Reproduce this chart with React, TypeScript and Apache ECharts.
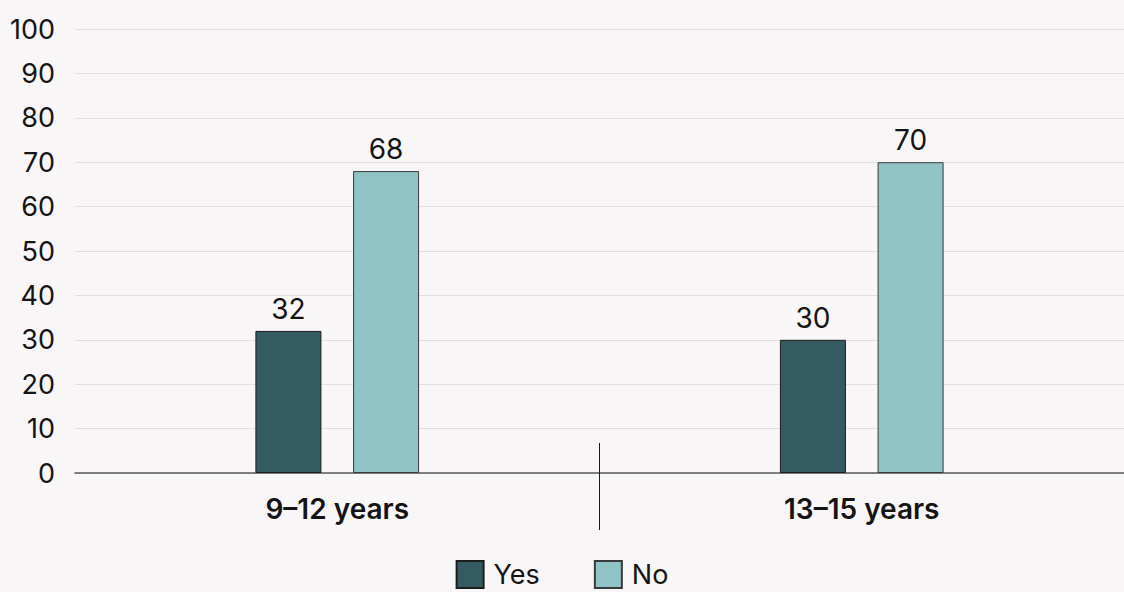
import React, { useEffect, useRef } from "react";
import * as echarts from "echarts";

const categories = ["9–12 years", "13–15 years"];
const yesValues = [32, 30];
const noValues = [68, 70];
const seriesNames = ["Yes", "No"];
const yMin = 0;
const yMax = 100;
const yInterval = 10;

const FONT = "Inter, 'Liberation Sans', Arial, sans-serif";
const TEXT = "#141414";
const FS = 28;

export default function App() {
  const ref = useRef<HTMLDivElement>(null);
  useEffect(() => {
    if (!ref.current) return;
    const chart = echarts.init(ref.current, null, { renderer: "svg" });
    chart.setOption({
      animation: false,
      backgroundColor: "#f8f6f7",
      textStyle: { fontFamily: FONT, color: TEXT },
      grid: { left: 75, right: 0, top: 29, bottom: 119, containLabel: false },
      legend: {
        top: 555,
        left: "center",
        padding: [5, 5, 2, 5],
        itemWidth: 27,
        itemHeight: 27,
        itemGap: 54,
        icon: "rect",
        textStyle: { fontFamily: FONT, fontSize: 27, lineHeight: 28, color: TEXT, padding: [0, 0, 0, 5] },
        data: seriesNames,
      },
      xAxis: {
        type: "category",
        data: categories,
        axisLine: { lineStyle: { color: "#5a5a5a", width: 1.5 } },
        axisTick: { show: false },
        axisLabel: {
          fontFamily: FONT,
          fontSize: FS,
          fontWeight: 600,
          color: TEXT,
          margin: 22,
        },
      },
      yAxis: {
        type: "value",
        min: yMin,
        max: yMax,
        interval: yInterval,
        axisLine: { show: false },
        axisTick: { show: false },
        splitLine: { lineStyle: { color: "#e2dfdf", width: 1 } },
        axisLabel: { fontFamily: FONT, fontSize: 27, color: TEXT, margin: 20 },
      },
      series: [
        {
          name: seriesNames[0],
          type: "bar",
          data: yesValues,
          barWidth: 66,
          barGap: "48%",
          itemStyle: { color: "#335b61", borderColor: "#1c1c1c", borderWidth: 1 },
          label: { show: true, position: "top", distance: 8, fontFamily: FONT, fontSize: FS, color: TEXT },
        },
        {
          name: seriesNames[1],
          type: "bar",
          data: noValues,
          barWidth: 66,
          itemStyle: { color: "#8fc3c5", borderColor: "#3a3a3a", borderWidth: 1 },
          label: { show: true, position: "top", distance: 8, fontFamily: FONT, fontSize: FS, color: TEXT },
        },
      ],
    });
    const x0 = chart.convertToPixel({ xAxisIndex: 0 }, categories[0]) as number;
    const x1 = chart.convertToPixel({ xAxisIndex: 0 }, categories[1]) as number;
    const y0 = chart.convertToPixel({ yAxisIndex: 0 }, 0) as number;
    const xm = (x0 + x1) / 2;
    chart.setOption({
      graphic: [
        {
          type: "line",
          shape: { x1: xm, y1: y0 - 30, x2: xm, y2: y0 + 57 },
          style: { stroke: "#1a1a1a", lineWidth: 1 },
          z: 10,
        },
      ],
    });
    return () => chart.dispose();
  }, []);
  return (
    <div
      ref={ref}
      style={{ position: "fixed", left: 0, top: 0, width: 1124, height: 592 }}
    />
  );
}
